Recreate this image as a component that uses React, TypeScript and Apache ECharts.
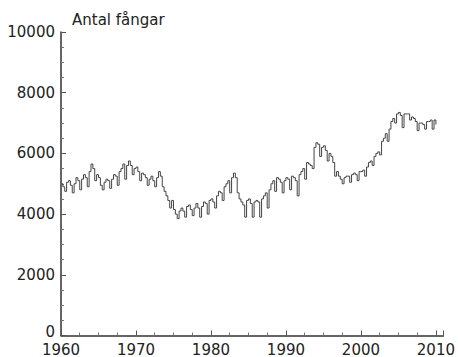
import React, { useEffect, useRef } from "react";
import * as echarts from "echarts";

const startYear = 1960;
const stepsPerYear = 4;
// quarterly prison population (Q1, Q2, Q3, Q4) per year, 1960 onward
const prisoners: number[] = [
  5000, 4900, 4750, 5050, // 1960
  5100, 4950, 4700, 5000, // 1961
  5200, 5100, 4800, 5150, // 1962
  5300, 5200, 4900, 5400, // 1963
  5650, 5500, 5100, 5300, // 1964
  5200, 4950, 4800, 5050, // 1965
  5150, 5100, 4850, 5150, // 1966
  5300, 5250, 4950, 5400, // 1967
  5500, 5650, 5150, 5600, // 1968
  5750, 5600, 5300, 5500, // 1969
  5550, 5400, 5100, 5350, // 1970
  5300, 5200, 4950, 5150, // 1971
  5250, 5100, 4900, 5200, // 1972
  5400, 5250, 4900, 4750, // 1973
  4600, 4450, 4200, 4450, // 1974
  4150, 4000, 3850, 4100, // 1975
  4200, 4100, 3900, 4250, // 1976
  4300, 4150, 3950, 4200, // 1977
  4350, 4200, 3900, 4250, // 1978
  4400, 4350, 4000, 4450, // 1979
  4500, 4400, 4200, 4600, // 1980
  4750, 4700, 4450, 4900, // 1981
  5000, 5100, 4700, 5200, // 1982
  5350, 5200, 4700, 4500, // 1983
  4400, 4300, 3900, 4450, // 1984
  4500, 4350, 3900, 4400, // 1985
  4450, 4400, 3900, 4500, // 1986
  4600, 4700, 4200, 4800, // 1987
  5000, 5100, 4750, 5200, // 1988
  5150, 5050, 4700, 5100, // 1989
  5200, 5150, 4800, 5250, // 1990
  5200, 5100, 4600, 5300, // 1991
  5400, 5500, 5150, 5700, // 1992
  5650, 5600, 5500, 6200, // 1993
  6350, 6300, 5900, 6200, // 1994
  6250, 6100, 5750, 6000, // 1995
  5900, 5700, 5250, 5400, // 1996
  5250, 5150, 5000, 5200, // 1997
  5250, 5250, 5050, 5300, // 1998
  5350, 5300, 5100, 5400, // 1999
  5400, 5450, 5250, 5550, // 2000
  5700, 5750, 5600, 5900, // 2001
  6000, 6050, 5950, 6400, // 2002
  6500, 6650, 6400, 6800, // 2003
  7050, 7150, 7000, 7300, // 2004
  7350, 7250, 6850, 7300, // 2005
  7300, 7300, 7100, 7200, // 2006
  7150, 7050, 6750, 7000, // 2007
  7000, 6950, 6800, 7050, // 2008
  7050, 7100, 6800, 7100, // 2009
  6950, // 2010
];

const yTicks = [0, 2000, 4000, 6000, 8000, 10000];
const xTicks = [1960, 1970, 1980, 1990, 2000, 2010];
const titleText = "Antal fångar";

const FONT = "DejaVu Sans";

export default function App() {
  const ref = useRef<HTMLDivElement>(null);
  useEffect(() => {
    if (!ref.current) return;
    const chart = echarts.init(ref.current, null, { renderer: "svg" });
    const data = prisoners.map((v, i) => [startYear + i / stepsPerYear, v]);
    chart.setOption({
      animation: false,
      backgroundColor: "#ffffff",
      grid: { left: 61, right: 13, top: 32, bottom: 21, containLabel: false },
      graphic: [
        {
          type: "text",
          left: 72,
          top: 12,
          style: { text: titleText, font: `15px '${FONT}'`, fill: "#222" },
        },
      ],
      xAxis: {
        type: "value",
        min: 1960,
        max: 2011,
        interval: 10,
        axisLine: { show: true, lineStyle: { color: "#333", width: 1.5 } },
        axisTick: { show: true, inside: true, length: 5, lineStyle: { color: "#555" } },
        minorTick: { show: true, splitNumber: 4, length: 3, lineStyle: { color: "#777" } },
        splitLine: { show: false },
        axisLabel: {
          margin: 8,
          lineHeight: 12,
          color: "#222",
          fontFamily: FONT,
          fontSize: 15,
          formatter: (v: number) => (xTicks.includes(v) ? String(v) : ""),
        },
      },
      yAxis: {
        type: "value",
        min: 0,
        max: 10000,
        interval: 2000,
        axisLine: { show: true, lineStyle: { color: "#333", width: 1.5 } },
        axisTick: { show: true, inside: true, length: 5, lineStyle: { color: "#555" } },
        minorTick: { show: true, splitNumber: 4, length: 3, lineStyle: { color: "#777" } },
        splitLine: { show: false },
        axisLabel: {
          margin: 6,
          color: "#222",
          fontFamily: FONT,
          fontSize: 15,
          formatter: (v: number) =>
            v === 0 ? "{z|0}" : yTicks.includes(v) ? String(v) : "",
          rich: {
            z: {
              fontFamily: FONT,
              fontSize: 15,
              color: "#222",
              lineHeight: 12,
              padding: [0, 0, 8, 0],
            },
          },
        },
      },
      series: [
        {
          type: "line",
          step: "end",
          data,
          showSymbol: false,
          lineStyle: { color: "#444", width: 1 },
        },
      ],
    });
    return () => chart.dispose();
  }, []);
  return (
    <div
      ref={ref}
      style={{ position: "fixed", left: 0, top: 0, width: 458, height: 357 }}
    />
  );
}
